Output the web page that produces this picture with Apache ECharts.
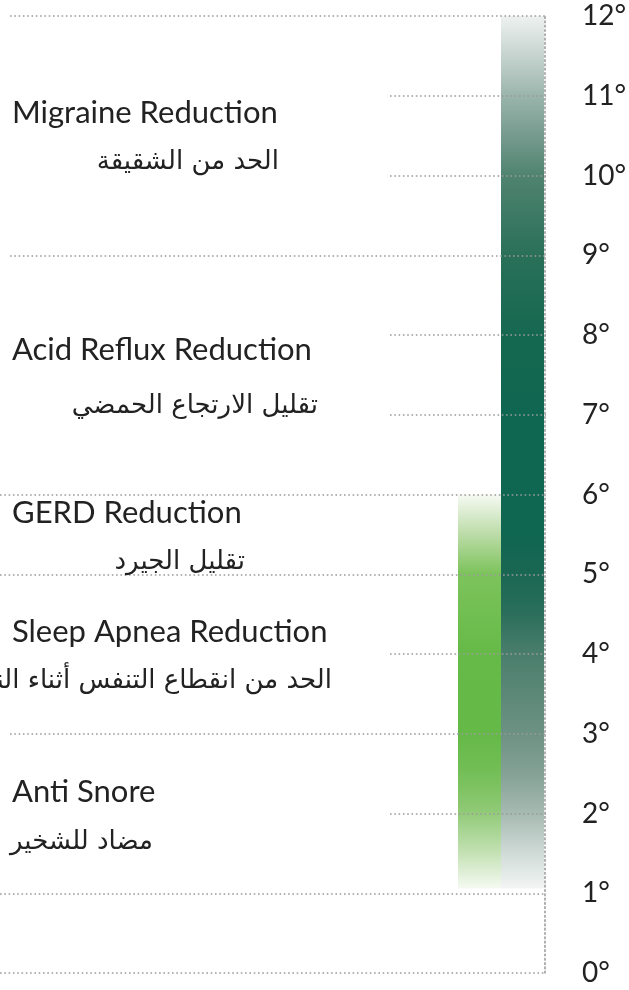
<!DOCTYPE html>
<html>
<head>
<meta charset="utf-8">
<script src="https://cdn.jsdelivr.net/npm/echarts@6/dist/echarts.min.js"></script>
<style>
  html, body { margin: 0; padding: 0; background: #fff; }
  #main { width: 629px; height: 990px; }
</style>
</head>
<body>
<div id="main"></div>
<script>
// 刻度
const degreeTicks = [0, 1, 2, 3, 4, 5, 6, 7, 8, 9, 10, 11, 12];
// 两根柱子：起点和终点（度）
const barNames = ['green', 'dark'];
const barBottom = [1.06, 1.06];
const barTop = [6, 12];
// 左侧说明文字
const labelsEn = ['Migraine Reduction', 'Acid Reflux Reduction', 'GERD Reduction', 'Sleep Apnea Reduction', 'Anti Snore'];
const labelsAr = ['الحد من الشقيقة', 'تقليل الارتجاع الحمضي', 'تقليل الجيرد', 'الحد من انقطاع التنفس أثناء النوم', 'مضاد للشخير'];

// 布局（像素）
const textRows = [
    { enY: 113, arY: 162, arRight: 279 },
    { enY: 350, arY: 406, arRight: 318 },
    { enY: 513, arY: 562, arRight: 245 },
    { enY: 632, arY: 681, arRight: 332 },
    { enY: 792, arY: 842, arLeft: 10 },
];
// 每条网格线的起点 x
const lineStartX = [0, 0, 390, 10, 390, 0, 0, 390, 390, 10, 390, 390, 10];
const gridLeftGroups = [0, 10, 390];

const lineColor = '#9b9b9b';
const dotType = [1.6, 2.7];

const chart = echarts.init(document.getElementById('main'));

const grids = [];
const xAxes = [];
const yAxes = [];
gridLeftGroups.forEach((left, gi) => {
    grids.push({ left: left, right: 83, top: 16, bottom: 17 });
    xAxes.push({ type: 'category', gridIndex: gi, data: [''], show: false });
    yAxes.push({
        type: 'value', gridIndex: gi, min: 0, max: 12, interval: 1, z: 5,
        position: 'right',
        axisLine: { show: gi === 0, lineStyle: { color: lineColor, width: 1.6, type: dotType } },
        axisTick: { show: false },
        axisLabel: {
            show: gi === 0, margin: 37, fontFamily: 'Lato', fontSize: 28, color: '#222',
            formatter: '{value}°'
        },
        splitLine: {
            show: true,
            lineStyle: {
                width: 1.6, type: dotType,
                color: degreeTicks.map((t, i) => lineStartX[i] === left ? lineColor : 'rgba(0,0,0,0)')
            }
        }
    });
});
// 柱子所在的网格
grids.push({ left: 458, right: 85, top: 16, bottom: 17 });
xAxes.push({ type: 'category', gridIndex: 3, data: [''], show: false });
yAxes.push({ type: 'value', gridIndex: 3, min: 0, max: 12, interval: 1, show: false });

const greenGrad = new echarts.graphic.LinearGradient(0, 0, 0, 1, [
    { offset: 0, color: '#f6faf3' },
    { offset: 0.1, color: '#bcdca8' },
    { offset: 0.2, color: '#7dc35c' },
    { offset: 0.4, color: '#66ba48' },
    { offset: 0.6, color: '#64b947' },
    { offset: 0.7, color: '#72be55' },
    { offset: 0.8, color: '#8ec974' },
    { offset: 0.9, color: '#bfdfae' },
    { offset: 1, color: '#f5faf2' }
]);
const darkGrad = new echarts.graphic.LinearGradient(0, 0, 0, 1, [
    { offset: 0, color: '#eef2f0' },
    { offset: 0.046, color: '#c5d3ce' },
    { offset: 0.091, color: '#9bb5ac' },
    { offset: 0.137, color: '#769b8e' },
    { offset: 0.183, color: '#4f8370' },
    { offset: 0.274, color: '#2a7059' },
    { offset: 0.366, color: '#15684f' },
    { offset: 0.457, color: '#0f6651' },
    { offset: 0.594, color: '#0f6651' },
    { offset: 0.64, color: '#1a6753' },
    { offset: 0.686, color: '#2b6f5b' },
    { offset: 0.731, color: '#4a7e6c' },
    { offset: 0.823, color: '#6d9283' },
    { offset: 0.868, color: '#84a196' },
    { offset: 0.914, color: '#a6bab2' },
    { offset: 0.96, color: '#d0dbd7' },
    { offset: 1, color: '#f2f5f4' }
]);
const grads = [greenGrad, darkGrad];

const series = [];
barNames.forEach((name, i) => {
    series.push({
        type: 'bar', name: name + '-base', stack: name, xAxisIndex: 3, yAxisIndex: 3,
        barWidth: 43, barGap: '0%', silent: true,
        itemStyle: { color: 'rgba(0,0,0,0)' },
        data: [barBottom[i]]
    });
    series.push({
        type: 'bar', name: name, stack: name, xAxisIndex: 3, yAxisIndex: 3,
        barWidth: 43, barGap: '0%',
        itemStyle: { color: grads[i] },
        data: [barTop[i] - barBottom[i]]
    });
});

const enFont = '31px Lato';
const arFont = '26px "DejaVu Sans"';
const graphics = [];
labelsEn.forEach((txt, i) => {
    const row = textRows[i];
    graphics.push({
        type: 'text', x: 12, y: row.enY, z: 10,
        style: { text: txt, font: enFont, fill: '#222', textAlign: 'left', textVerticalAlign: 'middle' }
    });
    const ar = labelsAr[i];
    graphics.push({
        type: 'text', x: row.arLeft != null ? row.arLeft : row.arRight, y: row.arY, z: 10,
        style: {
            text: ar, font: arFont, fill: '#222',
            textAlign: row.arLeft != null ? 'left' : 'right', textVerticalAlign: 'middle'
        }
    });
});

chart.setOption({
    animation: false,
    grid: grids,
    xAxis: xAxes,
    yAxis: yAxes,
    series: series,
    graphic: graphics
});

window.addEventListener('resize', () => chart.resize());
</script>
</body>
</html>
